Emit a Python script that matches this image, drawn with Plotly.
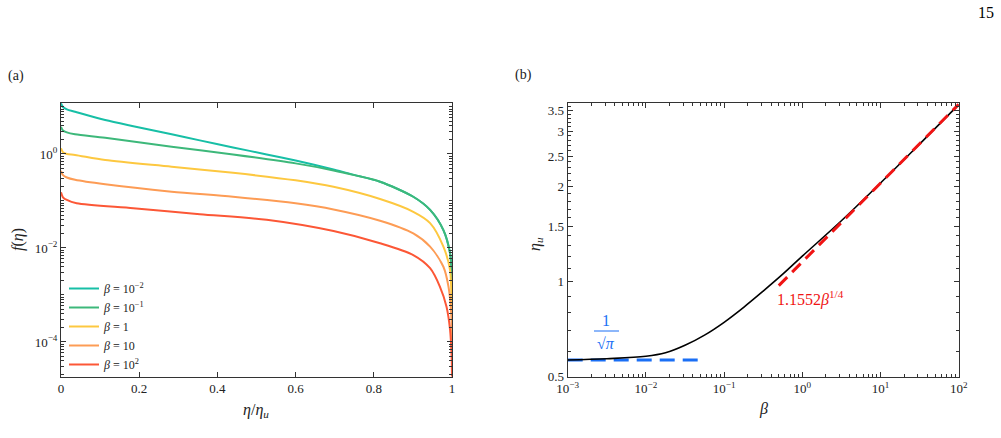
import plotly.graph_objects as go

# ---------------- Panel (a): f(eta) vs eta/eta_u ----------------
eta_b001 = [0, 0.005, 0.015, 0.036, 0.113, 0.185, 0.283, 0.355, 0.44, 0.526, 0.6, 0.697, 0.75, 0.816, 0.901, 0.944, 0.978, 0.995, 0.999, 1.0]
f_b001 = [11.97, 10.0, 8.91, 7.94, 5.28, 3.89, 2.62, 1.95, 1.38, 0.977, 0.724, 0.468, 0.359, 0.257, 0.123, 0.0646, 0.024, 0.00776, 0.00316, 0.00151]

eta_b01 = [0, 0.005, 0.015, 0.036, 0.113, 0.283, 0.44, 0.6, 0.697, 0.75, 0.816, 0.901, 0.944, 0.978, 0.995, 0.999, 1.0]
f_b01 = [3.80, 3.16, 2.88, 2.63, 2.22, 1.43, 0.977, 0.631, 0.447, 0.355, 0.257, 0.123, 0.0646, 0.024, 0.00776, 0.00316, 0.00151]

eta_b1 = [0, 0.005, 0.015, 0.036, 0.113, 0.283, 0.44, 0.6, 0.697, 0.816, 0.901, 0.944, 0.978, 0.995, 0.999, 1.0]
f_b1 = [1.318, 1.096, 1.0, 0.955, 0.741, 0.537, 0.398, 0.275, 0.200, 0.110, 0.0589, 0.0339, 0.0107, 0.00339, 0.000562, 0.000398]

eta_b10 = [0, 0.005, 0.015, 0.036, 0.113, 0.283, 0.44, 0.6, 0.697, 0.816, 0.901, 0.944, 0.978, 0.991, 0.998, 1.0]
f_b10 = [0.437, 0.355, 0.316, 0.282, 0.226, 0.158, 0.123, 0.0891, 0.0661, 0.0380, 0.0204, 0.0107, 0.00398, 0.00151, 0.000407, 0.00011]

eta_b100 = [0, 0.005, 0.015, 0.04, 0.185, 0.355, 0.526, 0.697, 0.816, 0.901, 0.944, 0.969, 0.986, 0.995, 0.999, 1.0]
f_b100 = [0.153, 0.120, 0.105, 0.0891, 0.070, 0.0525, 0.0398, 0.0229, 0.0126, 0.00708, 0.00372, 0.00151, 0.000562, 0.000182, 0.0000501, 0.0000150]

legend_names = ["<i>β</i> = 10<sup>−2</sup>", "<i>β</i> = 10<sup>−1</sup>", "<i>β</i> = 1",
                "<i>β</i> = 10", "<i>β</i> = 10<sup>2</sup>"]
line_colors = ["#17bfa6", "#3db87a", "#fdc840", "#fd9c55", "#fc5736"]

xa_ticks = [0, 0.2, 0.4, 0.6, 0.8, 1]
xa_ticktext = ["0", "0.2", "0.4", "0.6", "0.8", "1"]
ya_ticks = [1e-4, 1e-2, 1]
ya_ticktext = ["10<sup>−4</sup>", "10<sup>−2</sup>", "10<sup>0</sup>"]

# ---------------- Panel (b): eta_u vs beta ----------------
beta = [0.001, 0.00316, 0.01, 0.0178, 0.0316, 0.0562, 0.1, 0.178, 0.316, 0.562, 1.0, 3.16, 10, 31.6, 100]
eta_u = [0.5642, 0.5694, 0.5794, 0.5944, 0.6279, 0.6766, 0.7431, 0.8291, 0.9331, 1.0558, 1.205, 1.5604, 2.0563, 2.7327, 3.645]

beta_small = [0.001, 0.055]
eta_small = [0.5642, 0.5642]          # 1/sqrt(pi)
beta_large = [0.5, 100]
eta_large = [0.9714, 3.653]           # 1.1552 beta^(1/4)

xb_ticks = [1e-3, 1e-2, 1e-1, 1, 10, 100]
xb_ticktext = ["10<sup>−3</sup>", "10<sup>−2</sup>", "10<sup>−1</sup>", "10<sup>0</sup>", "10<sup>1</sup>", "10<sup>2</sup>"]
yb_ticks = [0.5, 1, 1.5, 2, 2.5, 3, 3.5]
yb_ticktext = ["0.5", "1", "1.5", "2", "2.5", "3", "3.5"]

FONT = "Liberation Serif, Times New Roman, serif"
W, H = 1001, 438

def px(x):
    return x / W

def py(y):
    return 1 - y / H

fig = go.Figure()

series = [(eta_b001, f_b001), (eta_b01, f_b01), (eta_b1, f_b1), (eta_b10, f_b10), (eta_b100, f_b100)]
for (ex, fy), nm, col in zip(series, legend_names, line_colors):
    fig.add_trace(go.Scatter(x=ex, y=fy, mode="lines", name=nm,
                             line=dict(color=col, width=2, shape="spline", smoothing=0.8),
                             xaxis="x", yaxis="y"))

fig.add_trace(go.Scatter(x=beta_small, y=eta_small, mode="lines", showlegend=False,
                         line=dict(color="#1a6ff5", width=3, dash="15px,8px"),
                         xaxis="x2", yaxis="y2"))
fig.add_trace(go.Scatter(x=beta, y=eta_u, mode="lines", showlegend=False,
                         line=dict(color="black", width=1.6, shape="spline", smoothing=1.0),
                         xaxis="x2", yaxis="y2"))
fig.add_trace(go.Scatter(x=beta_large, y=eta_large, mode="lines", showlegend=False,
                         line=dict(color="#f01414", width=3, dash="12px,7px"),
                         xaxis="x2", yaxis="y2"))

# minor tick lists
minor_left_y = []
for k in range(-5, 2):
    for m in range(1, 10):
        v = m * 10.0 ** k
        if v not in ya_ticks:
            minor_left_y.append(v)
minor_b_x = []
for k in range(-3, 2):
    for m in range(2, 10):
        minor_b_x.append(m * 10.0 ** k)
minor_b_y = [round(0.5 + 0.1 * i, 1) for i in range(1, 32)]
minor_b_y = [v for v in minor_b_y if v not in yb_ticks]

axcol = "#333333"
common = dict(showline=True, linecolor=axcol, linewidth=1, mirror="allticks", ticks="inside",
              ticklen=5, tickwidth=1, tickcolor=axcol, showgrid=False, zeroline=False,
              automargin=False,
              tickfont=dict(family=FONT, size=13, color="#222"))

ydom = [py(376.5), py(103)]
fig.update_layout(
    width=W, height=H, margin=dict(l=0, r=0, t=0, b=0, pad=0, autoexpand=False),
    paper_bgcolor="white", plot_bgcolor="white",
    font=dict(family=FONT, color="#222"),
    xaxis=dict(domain=[px(61), px(452)], range=[0, 1], tickvals=xa_ticks, ticktext=xa_ticktext,
               anchor="y", **common),
    yaxis=dict(domain=ydom, type="log", range=[-4.735, 1.085], tickvals=ya_ticks, ticktext=ya_ticktext,
               anchor="x",
               minor=dict(tickmode="array", tickvals=minor_left_y, ticks="inside", ticklen=3,
                          tickcolor=axcol), **common),
    xaxis2=dict(domain=[px(567.7), px(958.7)], type="log", range=[-3, 2], tickvals=xb_ticks,
                ticktext=xb_ticktext, anchor="y2",
                minor=dict(tickmode="array", tickvals=minor_b_x, ticks="inside", ticklen=3,
                           tickcolor=axcol), **common),
    yaxis2=dict(domain=ydom, type="log", range=[-0.30103, 0.567], tickvals=yb_ticks,
                ticktext=yb_ticktext, anchor="x2",
                minor=dict(tickmode="array", tickvals=minor_b_y, ticks="inside", ticklen=3,
                           tickcolor=axcol), **common),
    legend=dict(x=px(64), y=py(379), xanchor="left", yanchor="bottom", bgcolor="rgba(0,0,0,0)",
                font=dict(family=FONT, size=12, color="#222"), itemwidth=30,
                tracegroupgap=0),
    showlegend=True,
)

ann = [
    dict(text="(a)", x=px(16), y=py(76), font=dict(size=14)),
    dict(text="(b)", x=px(523), y=py(75), font=dict(size=14)),
    dict(text="15", x=px(986), y=py(13), font=dict(size=16, color="black")),
    dict(text="<i>f</i>(<i>η</i>)", x=px(18), y=py(240), textangle=-90, font=dict(size=16)),
    dict(text="<i>η</i>/<i>η<sub>u</sub></i>", x=px(256), y=py(410), font=dict(size=16)),
    dict(text="<i>η<sub>u</sub></i>", x=px(535), y=py(244), textangle=-90, font=dict(size=16)),
    dict(text="<i>β</i>", x=px(763), y=py(409), font=dict(size=16)),
    dict(text="1", x=px(606), y=py(320), font=dict(size=16, color="#1a6ff5")),
    dict(text="√<i>π</i>", x=px(606), y=py(343), font=dict(size=16, color="#1a6ff5")),
    dict(text="1.1552<i>β</i><sup>1/4</sup>", x=px(775), y=py(298), xanchor="left",
         font=dict(size=16, color="#f01414")),
]
for a in ann:
    a.setdefault("xanchor", "center")
    a.update(xref="paper", yref="paper", showarrow=False, yanchor="middle")
    a["font"].setdefault("family", FONT)
    a["font"].setdefault("color", "#222")
fig.update_layout(annotations=ann)

fig.add_shape(type="line", xref="paper", yref="paper", x0=px(594), x1=px(619), y0=py(331), y1=py(331),
              line=dict(color="#1a6ff5", width=1))

fig.write_html("out.html")
